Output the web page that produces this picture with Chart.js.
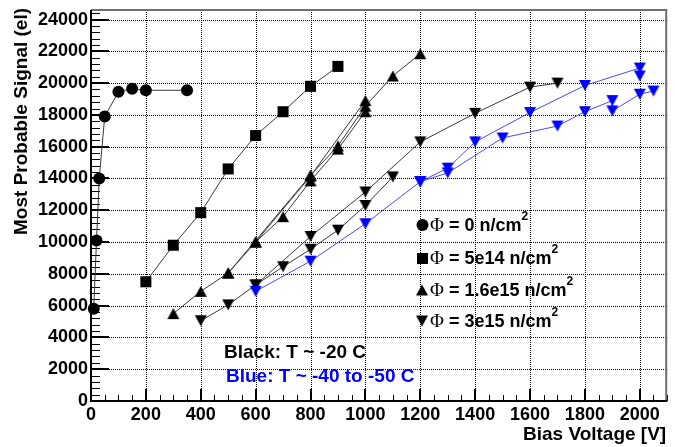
<!DOCTYPE html>
<html><head><meta charset="utf-8">
<script src="https://cdn.jsdelivr.net/npm/chart.js@4.4.1/dist/chart.umd.min.js"></script>
<style>html,body{margin:0;padding:0;background:#fff}#wrap{width:675px;height:447px;position:relative}</style>
</head><body><div id="wrap"><canvas id="c" width="675" height="447"></canvas></div>
<script>
// ---- tick labels ----
const xTickValues = [0,200,400,600,800,1000,1200,1400,1600,1800,2000];
const yTickValues = [0,2000,4000,6000,8000,10000,12000,14000,16000,18000,20000,22000,24000];
const xTitle = 'Bias Voltage [V]';
const yTitle = 'Most Probable Signal (el)';

// ---- Phi = 0 (circles, black) ----
const phi0V = [10,20,30,50,100,150,200,350];
const phi0S = [5800,10100,14000,17900,19450,19650,19550,19550];

// ---- Phi = 5e14 (squares, black) ----
const phi5e14V = [200,300,400,500,600,700,800,900];
const phi5e14S = [7500,9800,11850,14600,16700,18200,19800,21050];

// ---- Phi = 1.6e15 (up triangles, black) ----
const phi16aV = [300,400,500,600,700,800,900,1000];
const phi16aS = [5500,6900,8050,10000,11600,13850,15850,18200];
const phi16bV = [500,800,900,1000,1100,1200];
const phi16bS = [8050,14200,16050,18550,20450,21850];
const phi16cV = [600,800,1000];
const phi16cS = [10000,14150,18900];

// ---- Phi = 3e15 (down triangles, black, T ~ -20 C) ----
const phi3aV = [400,500,600,700,800,900,1000,1100];
const phi3aS = [5050,6050,7300,8450,9550,10750,12300,14100];
const phi3bV = [600,800,1000,1200,1400,1600,1700];
const phi3bS = [7300,10350,13150,16300,18100,19750,20000];

// ---- Phi = 3e15 (down triangles, blue, T ~ -40 to -50 C) ----
const blue1V = [600,800,1000,1200,1300,1400,1600,1800,2000,2000];
const blue1S = [6900,8800,11150,13800,14650,16300,18150,19850,20950,20450];
const blue2V = [1200,1300,1500,1700,1800,1900,1900,2000,2050];
const blue2S = [13800,14350,16550,17300,18200,18900,18250,19300,19500];

// ---- legend / notes ----
const legendLabels = [' = 0 n/cm', ' = 5e14 n/cm', ' = 1.6e15 n/cm', ' = 3e15 n/cm'];
const legendShapes = ['circle','square','up','down'];
const noteBlack = 'Black: T ~ -20 C';
const noteBlue = 'Blue: T ~ -40 to -50 C';

const FONT = "'Liberation Sans', Arial, Helvetica, sans-serif";
const BLUE = '#0000ff';

function triCanvas(up, color){
  const w = 12, h = 11;
  const cv = document.createElement('canvas');
  cv.width = w + 2; cv.height = h + 2;
  const g = cv.getContext('2d');
  g.fillStyle = color;
  g.beginPath();
  if (up){ g.moveTo(1 + w/2, 1); g.lineTo(1 + w, 1 + h); g.lineTo(1, 1 + h); }
  else { g.moveTo(1, 1); g.lineTo(1 + w, 1); g.lineTo(1 + w/2, 1 + h); }
  g.closePath(); g.fill();
  return cv;
}
const upBlack = triCanvas(true, '#000');
const downBlack = triCanvas(false, '#000');
const downBlue = triCanvas(false, BLUE);

function pts(V, S){ return V.map((v,i)=>({x:v, y:S[i]})); }
function ds(V, S, style, color, lineColor, radius){
  return {
    data: pts(V,S), showLine: true, borderColor: lineColor, borderWidth: 1,
    pointStyle: style, pointRadius: radius, pointBackgroundColor: color,
    pointBorderColor: color, pointBorderWidth: 0, backgroundColor: color,
    fill: false, tension: 0, clip: false
  };
}
const LINE_BLACK = '#3a3a3a';
const LINE_BLUE = '#4a4aff';

const datasets = [
  ds(blue1V, blue1S, downBlue, BLUE, LINE_BLUE, 5),
  ds(blue2V, blue2S, downBlue, BLUE, LINE_BLUE, 5),
  ds(phi0V, phi0S, 'circle', '#000', LINE_BLACK, 6),
  ds(phi5e14V, phi5e14S, 'rect', '#000', LINE_BLACK, 7.8),
  ds(phi16aV, phi16aS, upBlack, '#000', LINE_BLACK, 5),
  ds(phi16bV, phi16bS, upBlack, '#000', LINE_BLACK, 5),
  ds(phi16cV, phi16cS, upBlack, '#000', LINE_BLACK, 5),
  ds(phi3aV, phi3aS, downBlack, '#000', LINE_BLACK, 5),
  ds(phi3bV, phi3bS, downBlack, '#000', LINE_BLACK, 5)
];

function seg(ctx, x1, y1, x2, y2){ ctx.beginPath(); ctx.moveTo(x1,y1); ctx.lineTo(x2,y2); ctx.stroke(); }

function drawGridTicks(chart){
  const ctx = chart.ctx, a = chart.chartArea, x = chart.scales.x, y = chart.scales.y;
  ctx.save();
  // dotted grid
  ctx.strokeStyle = '#000'; ctx.lineWidth = 1; ctx.setLineDash([1,1]);
  xTickValues.forEach(v => { if (v === 0) return; const px = Math.round(x.getPixelForValue(v)) + 0.5; seg(ctx, px, a.top, px, a.bottom); });
  yTickValues.forEach(v => { if (v === 0) return; const py = Math.round(y.getPixelForValue(v)) + 0.5; seg(ctx, a.left, py, a.right, py); });
  ctx.setLineDash([]);
  // inward ticks
  ctx.strokeStyle = '#000';
  for (let v = 0; v <= x.max; v += 50){
    const major = (v % 200 === 0);
    ctx.lineWidth = major ? 2 : 1;
    const px = major ? Math.round(x.getPixelForValue(v)) : Math.round(x.getPixelForValue(v)) + 0.5;
    seg(ctx, px, a.bottom, px, a.bottom - (major ? 12 : 6));
  }
  for (let v = 0; v <= y.max; v += 400){
    const major = (v % 2000 === 0);
    ctx.lineWidth = major ? 2 : 1;
    const py = major ? Math.round(y.getPixelForValue(v)) : Math.round(y.getPixelForValue(v)) + 0.5;
    seg(ctx, a.left, py, a.left + (major ? 18 : 9), py);
  }
  // frame
  ctx.strokeStyle = '#707070'; ctx.lineWidth = 2;
  seg(ctx, a.left, a.top, a.right, a.top);
  seg(ctx, a.right - 1, a.top, a.right - 1, a.bottom);
  ctx.strokeStyle = '#000'; ctx.lineWidth = 2;
  seg(ctx, a.left, a.top, a.left, a.bottom + 1);
  seg(ctx, a.left - 1, a.bottom, a.right, a.bottom);
  ctx.restore();
}

const deco = {
  id: 'deco',
  beforeDraw(chart){
    const c = chart.ctx; c.save(); c.fillStyle = '#fff'; c.fillRect(0,0,chart.width,chart.height); c.restore();
  },
  beforeDatasetsDraw(chart){ drawGridTicks(chart); },
  afterDatasetsDraw(chart){
    const {ctx, chartArea:a} = chart;
    ctx.save();
    // legend
    const lx = 422, rows = [225, 258, 290, 321];
    legendShapes.forEach((s, i) => {
      const cy = rows[i];
      ctx.fillStyle = '#000';
      if (s === 'circle'){ ctx.beginPath(); ctx.arc(lx + 0.5, cy, 6, 0, Math.PI*2); ctx.fill(); }
      else if (s === 'square'){ ctx.fillRect(lx - 5, cy - 5, 11, 11); }
      else if (s === 'up'){ ctx.drawImage(upBlack, lx - upBlack.width/2, cy - upBlack.height/2); }
      else { ctx.drawImage(downBlack, lx - downBlack.width/2, cy - downBlack.height/2); }
      let tx = 430;
      ctx.textBaseline = 'middle'; ctx.textAlign = 'left';
      ctx.font = "19px 'Liberation Serif', 'DejaVu Serif', serif";
      ctx.fillText('\u03A6', tx, cy + 1);
      tx += ctx.measureText('\u03A6').width;
      ctx.font = 'bold 18px ' + FONT;
      ctx.fillText(legendLabels[i], tx, cy + 1);
      tx += ctx.measureText(legendLabels[i]).width;
      ctx.font = 'bold 12px ' + FONT;
      ctx.fillText('2', tx, cy - 8);
    });
    // notes
    ctx.textAlign = 'left'; ctx.textBaseline = 'middle';
    ctx.font = 'bold 19px ' + FONT;
    ctx.fillStyle = '#000'; ctx.fillText(noteBlack, 224, 353);
    ctx.fillStyle = BLUE; ctx.fillText(noteBlue, 226, 377);
    // axis titles
    ctx.fillStyle = '#000';
    ctx.font = 'bold 19px ' + FONT;
    ctx.textAlign = 'right'; ctx.textBaseline = 'middle';
    ctx.fillText(xTitle, a.right - 1, 435);
    ctx.translate(22, 8); ctx.rotate(-Math.PI/2);
    ctx.textAlign = 'right'; ctx.textBaseline = 'middle';
    ctx.fillText(yTitle, 0, 0);
    ctx.restore();
  }
};

new Chart(document.getElementById('c'), {
  type: 'scatter',
  data: { datasets },
  options: {
    responsive: false, animation: false, events: [], devicePixelRatio: 1,
    layout: { padding: { left: 0, right: 1, top: 10, bottom: 0 } },
    plugins: { legend: { display: false }, tooltip: { enabled: false } },
    scales: {
      x: {
        type: 'linear', position: 'bottom', min: 0, max: 2100,
        grid: { display: false, drawTicks: false }, border: { display: false },
        ticks: { color: '#000', font: { family: FONT, weight: 'bold', size: 18 }, padding: 3, maxRotation: 0, autoSkip: false,
                 callback: v => String(v) },
        afterBuildTicks: s => { s.ticks = xTickValues.map(v => ({ value: v })); },
        afterFit: s => { s.height = 46; s.paddingLeft = 0; s.paddingRight = 0; }
      },
      y: {
        type: 'linear', position: 'left', min: 0, max: 24600,
        grid: { display: false, drawTicks: false }, border: { display: false },
        ticks: { color: '#000', font: { family: FONT, weight: 'bold', size: 18 }, padding: 3, autoSkip: false,
                 callback: v => String(v) },
        afterBuildTicks: s => { s.ticks = yTickValues.map(v => ({ value: v })); },
        afterFit: s => { s.width = 91; s.paddingTop = 0; s.paddingBottom = 0; }
      }
    }
  },
  plugins: [deco]
});
</script>
</body></html>
